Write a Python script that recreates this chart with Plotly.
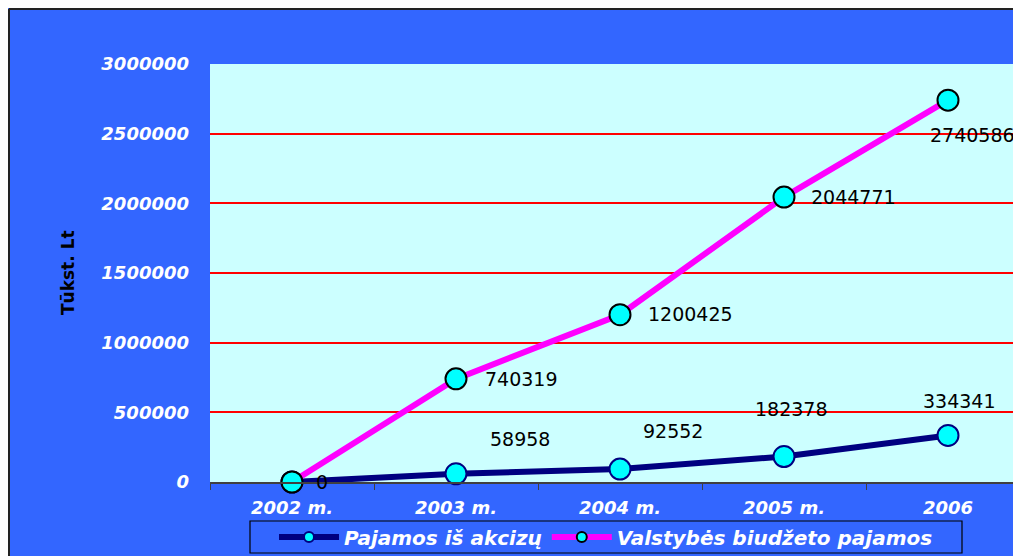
import plotly.graph_objects as go

categories = ["2002 m.", "2003 m.", "2004 m.", "2005 m.", "2006"]
akcizai = [0, 58958, 92552, 182378, 334341]
biudzetas = [0, 740319, 1200425, 2044771, 2740586]
akcizai_labels = ["0", "58958", "92552", "182378", "334341"]
biudzetas_labels = ["", "740319", "1200425", "2044771", "2740586"]
y_ticks = [0, 500000, 1000000, 1500000, 2000000, 2500000, 3000000]
series_names = ["Pajamos iš akcizų", "Valstybės biudžeto pajamos"]

# label offsets in pixels (style, not data)
akc_off = [(22, 0), (32, 35), (21, 38), (-31, 48), (-27, 34)]
biu_off = [(26, 0), (27, 0), (26, 1), (25, 0), (-20, -35)]

BLUE = "#3366FF"
NAVY = "#000080"
MAG = "#FF00FF"
CYAN = "#00FFFF"

fig = go.Figure()
fig.add_trace(go.Scatter(
    x=categories, y=akcizai, mode="lines+markers", showlegend=False,
    line=dict(color=NAVY, width=6),
    marker=dict(size=21, color=CYAN, line=dict(color=NAVY, width=2)),
    cliponaxis=False))
fig.add_trace(go.Scatter(
    x=categories, y=biudzetas, mode="lines+markers", showlegend=False,
    line=dict(color=MAG, width=6),
    marker=dict(size=21, color=CYAN, line=dict(color="black", width=2)),
    cliponaxis=False))
# legend proxies
fig.add_trace(go.Scatter(
    x=[None], y=[None], mode="lines+markers", name=series_names[0],
    line=dict(color=NAVY, width=6),
    marker=dict(size=10, color=CYAN, line=dict(color=NAVY, width=2))))
fig.add_trace(go.Scatter(
    x=[None], y=[None], mode="lines+markers", name=series_names[1],
    line=dict(color=MAG, width=6),
    marker=dict(size=10, color=CYAN, line=dict(color="black", width=2))))

label_font = dict(family="DejaVu Sans", size=19, color="black")
anns = []
for i, (val, lab, (dx, dy)) in enumerate(zip(akcizai, akcizai_labels, akc_off)):
    if lab:
        anns.append(dict(x=i, y=val, xref="x", yref="y", text=lab, showarrow=False,
                         xanchor="left", yanchor="middle", xshift=dx, yshift=dy, font=label_font))
for i, (val, lab, (dx, dy)) in enumerate(zip(biudzetas, biudzetas_labels, biu_off)):
    if lab:
        anns.append(dict(x=i, y=val, xref="x", yref="y", text=lab, showarrow=False,
                         xanchor="left", yanchor="middle", xshift=dx, yshift=dy, font=label_font))
# plot area: 820 px wide, 418 px tall
anns.append(dict(x=-142 / 820, y=0.5, xref="paper", yref="paper", text="Tūkst. Lt",
                 textangle=-90, showarrow=False, xanchor="center", yanchor="middle",
                 font=dict(family="DejaVu Sans", size=17, color="black", weight="bold")))

tick_font = dict(family="DejaVu Sans", size=18, color="white", weight="bold", style="italic")

fig.update_layout(
    width=1040, height=548, autosize=False,
    margin=dict(l=202, r=18, t=56, b=74, pad=0, autoexpand=False),
    paper_bgcolor=BLUE, plot_bgcolor="#CCFFFF",
    annotations=anns,
    showlegend=True,
    legend=dict(orientation="h", x=396 / 820, xanchor="center", y=-55 / 418, yanchor="middle",
                bgcolor="rgba(0,0,0,0)", borderwidth=0,
                font=dict(family="DejaVu Sans", size=20, color="white", weight="bold", style="italic"),
                itemwidth=60),
    shapes=[
        dict(type="line", xref="paper", yref="paper", x0=-201 / 820, x1=1.1, y0=473 / 418, y1=473 / 418,
             line=dict(color="#222222", width=2)),
        dict(type="line", xref="paper", yref="paper", x0=-201 / 820, x1=-201 / 820, y0=-0.3, y1=473 / 418,
             line=dict(color="#222222", width=2)),
        # legend frame
        dict(type="rect", xref="paper", yref="paper", x0=40 / 820, x1=752 / 820,
             y0=-71 / 418, y1=-39 / 418, line=dict(color="black", width=1.2)),
    ],
)
fig.update_xaxes(type="category", range=[-0.5, 4.5], showgrid=False,
                 showline=True, linecolor="#404040", linewidth=2,
                 ticks="outside", tickson="boundaries", ticklen=6, tickcolor="#404040",
                 tickfont=tick_font, ticklabelstandoff=8)
fig.update_yaxes(range=[0, 3000000], tickvals=y_ticks, ticktext=[str(v) for v in y_ticks],
                 showgrid=True, gridcolor="#FF0000", gridwidth=2, zeroline=False,
                 showline=False, ticks="", tickfont=tick_font, ticklabelstandoff=20)

fig.write_html("out.html", post_script="document.body.style.overflow='hidden';")
